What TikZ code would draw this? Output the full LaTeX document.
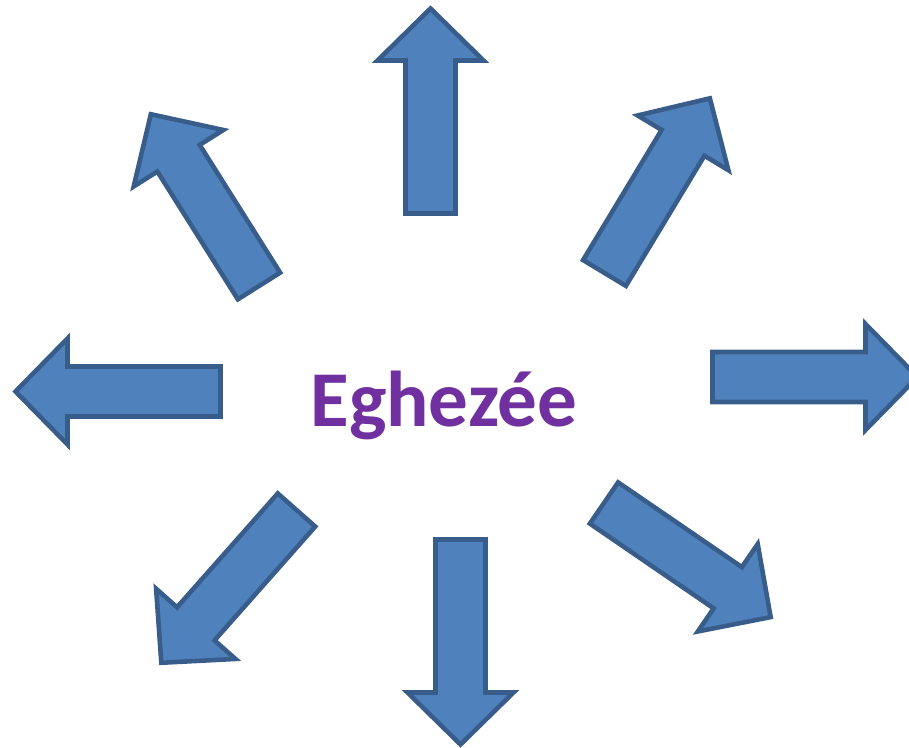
\documentclass[tikz,border=0pt]{standalone}
\usepackage{fontspec}
\setmainfont{Carlito}
\usepackage{xcolor}
\definecolor{arrowfill}{HTML}{4F81BD}
\definecolor{arrowline}{HTML}{385D8A}
\definecolor{townpurple}{HTML}{7030A0}
\tikzset{
    blockarrow/.style={fill=arrowfill, draw=arrowline, line width=2.6pt, miter limit=4},
    townlabel/.style={font=\bfseries\fontsize{45}{52}\selectfont, text=townpurple, inner sep=0pt}
}
% tail x, tail y, direction, length (in pixel units)
\newcommand{\blockarrow}[4]{%
    \begin{scope}[shift={(#1,#2)}, rotate=#3]
        \draw[blockarrow] (0,-25) -- (#4-52,-25) -- (#4-52,-53) -- (#4,0)
            -- (#4-52,53) -- (#4-52,25) -- (0,25) -- cycle;
    \end{scope}}

\begin{document}
\begin{tikzpicture}[x=0.02cm, y=0.02cm]
    \useasboundingbox (0,0) rectangle (909,747);

    \foreach \tx/\ty/\dir/\len in {
        430.5/533.5/90/205,    % up
        604.5/474/58.9/204,    % up right
        712.5/370/0/205,       % right
        604/244/-34.4/202,     % down right
        460.5/207.5/-90/205,   % down
        296.5/237/-131.5/204,  % down left
        220.5/355.5/180/205,   % left
        259/461/122.2/203      % up left
    }{
        \blockarrow{\tx}{\ty}{\dir}{\len}
    }

    \node[townlabel, anchor=base] (town) at (444,320) {Eghezée};
\end{tikzpicture}
\end{document}
